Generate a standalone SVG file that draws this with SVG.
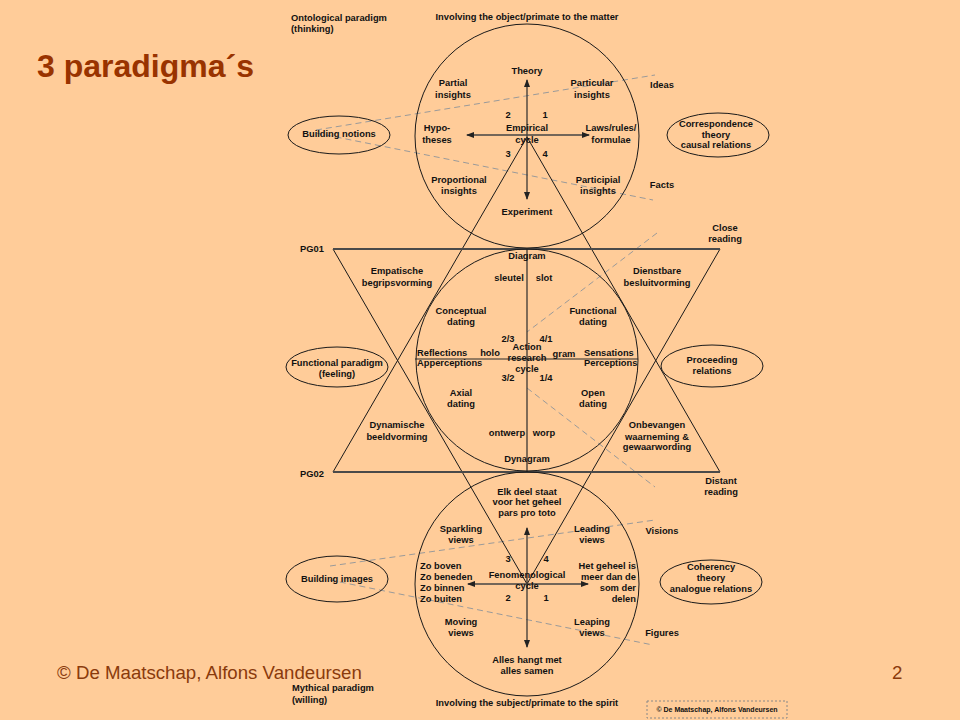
<svg xmlns="http://www.w3.org/2000/svg" width="960" height="720" viewBox="0 0 960 720">
<style>
.t{font-family:"Liberation Sans",Arial,sans-serif;font-size:9.33px;font-weight:bold;fill:#111;text-anchor:middle}
.l{text-anchor:start}
.e{text-anchor:end}
.c{fill:none;stroke:#1a1a1a;stroke-width:1}
.tri{fill:none;stroke:#1a1a1a;stroke-width:1}
.pg{stroke:#4a4a4a;stroke-width:1.8}
.ax{stroke:#2a2a2a;stroke-width:1.2;fill:none}
.axh{stroke:#444;stroke-width:1.6;fill:none}
.d{stroke:#9a9a9a;stroke-width:1;stroke-dasharray:6 4;fill:none}
.foot{font-family:"Liberation Sans",Arial,sans-serif;font-size:18.67px;fill:#8a3a0c}
</style>
<defs>
<marker id="ah" markerUnits="userSpaceOnUse" markerWidth="8" markerHeight="6" refX="7" refY="3" orient="auto-start-reverse" viewBox="0 0 8 6">
<path d="M0,0 L8,3 L0,6 z" fill="#222"/>
</marker>
</defs>
<rect x="0" y="0" width="960" height="720" fill="#ffcc99"/>
<text x="37" y="77" style="font-family:'Liberation Sans',Arial,sans-serif;font-size:32px;font-weight:bold;fill:#993300">3 paradigma´s</text>
<text class="foot" x="57" y="679">© De Maatschap, Alfons Vandeursen</text>
<text class="foot" x="892" y="679">2</text>

<g id="connectors">
<line class="d" x1="316" y1="130" x2="655" y2="75"/>
<line class="d" x1="316" y1="133" x2="653" y2="200"/>
<line class="d" x1="657" y1="233" x2="527" y2="332"/>
<line class="d" x1="527" y1="388" x2="655" y2="487"/>
<line class="d" x1="330" y1="566" x2="655" y2="520"/>
<line class="d" x1="330" y1="580" x2="653" y2="645"/>
<polygon class="tri" points="333,249 720,249 527,584"/>
<polygon class="tri" points="333,472 720,472 527,137"/>
<line class="pg" x1="333" y1="249" x2="720" y2="249"/>
<line class="pg" x1="333" y1="472" x2="720" y2="472"/>
<line class="ax" x1="527" y1="137" x2="527" y2="80" marker-end="url(#ah)"/>
<line class="ax" x1="527" y1="137" x2="527" y2="199" marker-end="url(#ah)"/>
<line class="axh" x1="467" y1="135" x2="589" y2="135" marker-start="url(#ah)" marker-end="url(#ah)"/>
<line class="ax" x1="527" y1="249" x2="527" y2="472"/>
<line class="ax" x1="415" y1="359" x2="638" y2="359"/>
<line class="ax" x1="527" y1="584" x2="527" y2="528" marker-end="url(#ah)"/>
<line class="ax" x1="527" y1="584" x2="527" y2="647" marker-end="url(#ah)"/>
<line class="axh" x1="468" y1="584" x2="588" y2="584" marker-start="url(#ah)" marker-end="url(#ah)"/>
</g>

<g id="empirical-circle">
<circle class="c" cx="527" cy="136" r="112"/>
<text class="t" x="527" y="74">Theory</text>
<text class="t" x="453" y="86">Partial</text><text class="t" x="453" y="98">insights</text>
<text class="t" x="592" y="86">Particular</text><text class="t" x="592" y="98">insights</text>
<text class="t" x="508" y="118">2</text><text class="t" x="545" y="118">1</text>
<text class="t" x="527" y="131">Empirical</text><text class="t" x="527" y="143">cycle</text>
<text class="t" x="437" y="131">Hypo-</text><text class="t" x="437" y="143">theses</text>
<text class="t" x="611" y="131">Laws/rules/</text><text class="t" x="611" y="143">formulae</text>
<text class="t" x="508" y="157">3</text><text class="t" x="545" y="157">4</text>
<text class="t" x="459" y="183">Proportional</text><text class="t" x="459" y="194">insights</text>
<text class="t" x="598" y="183">Participial</text><text class="t" x="598" y="194">insights</text>
<text class="t" x="527" y="215">Experiment</text>
</g>

<g id="action-circle">
<circle class="c" cx="527" cy="360" r="111"/>
<text class="t" x="527" y="259">Diagram</text>
<text class="t" x="509" y="281">sleutel</text><text class="t" x="544" y="281">slot</text>
<text class="t" x="461" y="314">Conceptual</text><text class="t" x="461" y="325">dating</text>
<text class="t" x="593" y="314">Functional</text><text class="t" x="593" y="325">dating</text>
<text class="t" x="508" y="342">2/3</text><text class="t" x="546" y="342">4/1</text>
<text class="t" x="527" y="350">Action</text><text class="t" x="527" y="361">research</text><text class="t" x="527" y="372">cycle</text>
<text class="t" x="490" y="356">holo</text><text class="t" x="564" y="357">gram</text>
<text class="t l" x="417" y="356">Reflections</text><text class="t l" x="417" y="366">Apperceptions</text>
<text class="t l" x="584" y="356">Sensations</text><text class="t l" x="584" y="366">Perceptions</text>
<text class="t" x="508" y="381">3/2</text><text class="t" x="546" y="381">1/4</text>
<text class="t" x="461" y="396">Axial</text><text class="t" x="461" y="407">dating</text>
<text class="t" x="593" y="396">Open</text><text class="t" x="593" y="407">dating</text>
<text class="t" x="507" y="436">ontwerp</text><text class="t" x="544" y="436">worp</text>
<text class="t" x="527" y="462">Dynagram</text>
</g>

<g id="fenomenological-circle">
<circle class="c" cx="527" cy="584" r="112"/>
<text class="t" x="527" y="495">Elk deel staat</text><text class="t" x="527" y="505">voor het geheel</text><text class="t" x="527" y="516">pars pro toto</text>
<text class="t" x="461" y="532">Sparkling</text><text class="t" x="461" y="543">views</text>
<text class="t" x="592" y="532">Leading</text><text class="t" x="592" y="543">views</text>
<text class="t" x="508" y="562">3</text><text class="t" x="546" y="562">4</text>
<text class="t l" x="420" y="569">Zo boven</text><text class="t l" x="420" y="580">Zo beneden</text><text class="t l" x="420" y="591">Zo binnen</text><text class="t l" x="420" y="602">Zo buiten</text>
<text class="t" x="527" y="578">Fenomenological</text><text class="t" x="527" y="589">cycle</text>
<text class="t e" x="636" y="569">Het geheel is</text><text class="t e" x="636" y="580">meer dan de</text><text class="t e" x="636" y="591">som der</text><text class="t e" x="636" y="602">delen</text>
<text class="t" x="508" y="601">2</text><text class="t" x="546" y="601">1</text>
<text class="t" x="461" y="625">Moving</text><text class="t" x="461" y="636">views</text>
<text class="t" x="592" y="625">Leaping</text><text class="t" x="592" y="636">views</text>
<text class="t" x="527" y="663">Alles hangt met</text><text class="t" x="527" y="674">alles samen</text>
</g>

<g id="triangle-labels">
<text class="t l" x="300" y="252">PG01</text>
<text class="t l" x="300" y="477">PG02</text>
<text class="t" x="397" y="274">Empatische</text><text class="t" x="397" y="286">begripsvorming</text>
<text class="t" x="657" y="274">Dienstbare</text><text class="t" x="657" y="286">besluitvorming</text>
<text class="t" x="397" y="428">Dynamische</text><text class="t" x="397" y="440">beeldvorming</text>
<text class="t" x="657" y="428">Onbevangen</text><text class="t" x="657" y="440">waarneming &amp;</text><text class="t" x="657" y="450">gewaarwording</text>
<text class="t" x="725" y="231">Close</text><text class="t" x="725" y="242">reading</text>
<text class="t" x="721" y="484">Distant</text><text class="t" x="721" y="495">reading</text>
</g>

<g id="side-labels">
<text class="t l" x="291" y="21">Ontological paradigm</text><text class="t l" x="291" y="32">(thinking)</text>
<text class="t" x="527" y="20">Involving the object/primate to the matter</text>
<text class="t l" x="292" y="691">Mythical paradigm</text><text class="t l" x="292" y="703">(willing)</text>
<text class="t" x="527" y="706">Involving the subject/primate to the spirit</text>
<text class="t" x="662" y="88">Ideas</text>
<text class="t" x="662" y="188">Facts</text>
<text class="t" x="662" y="534">Visions</text>
<text class="t" x="662" y="636">Figures</text>
</g>

<g id="building-notions"><ellipse class="c" cx="339" cy="135" rx="51" ry="19"/><text class="t" x="339" y="137">Building notions</text></g>
<g id="correspondence-theory"><ellipse class="c" cx="718" cy="135" rx="51" ry="22"/><text class="t" x="716" y="127">Correspondence</text><text class="t" x="716" y="138">theory</text><text class="t" x="716" y="148">causal relations</text></g>
<g id="functional-paradigm"><ellipse class="c" cx="337" cy="367" rx="51" ry="20"/><text class="t" x="337" y="366">Functional paradigm</text><text class="t" x="337" y="377">(feeling)</text></g>
<g id="proceeding-relations"><ellipse class="c" cx="712" cy="366" rx="51" ry="21"/><text class="t" x="712" y="363">Proceeding</text><text class="t" x="712" y="374">relations</text></g>
<g id="building-images"><ellipse class="c" cx="337" cy="579" rx="51" ry="23"/><text class="t" x="337" y="582">Building images</text></g>
<g id="coherency-theory"><ellipse class="c" cx="711" cy="582" rx="51" ry="22"/><text class="t" x="711" y="570">Coherency</text><text class="t" x="711" y="581">theory</text><text class="t" x="711" y="592">analogue relations</text></g>

<g id="copyright-box">
<rect x="647" y="701" width="140" height="17" fill="none" stroke="#888" stroke-width="1" stroke-dasharray="2 2"/>
<text class="t" x="717" y="712" style="font-size:7px">© De Maatschap, Alfons Vandeursen</text>
</g>
</svg>
